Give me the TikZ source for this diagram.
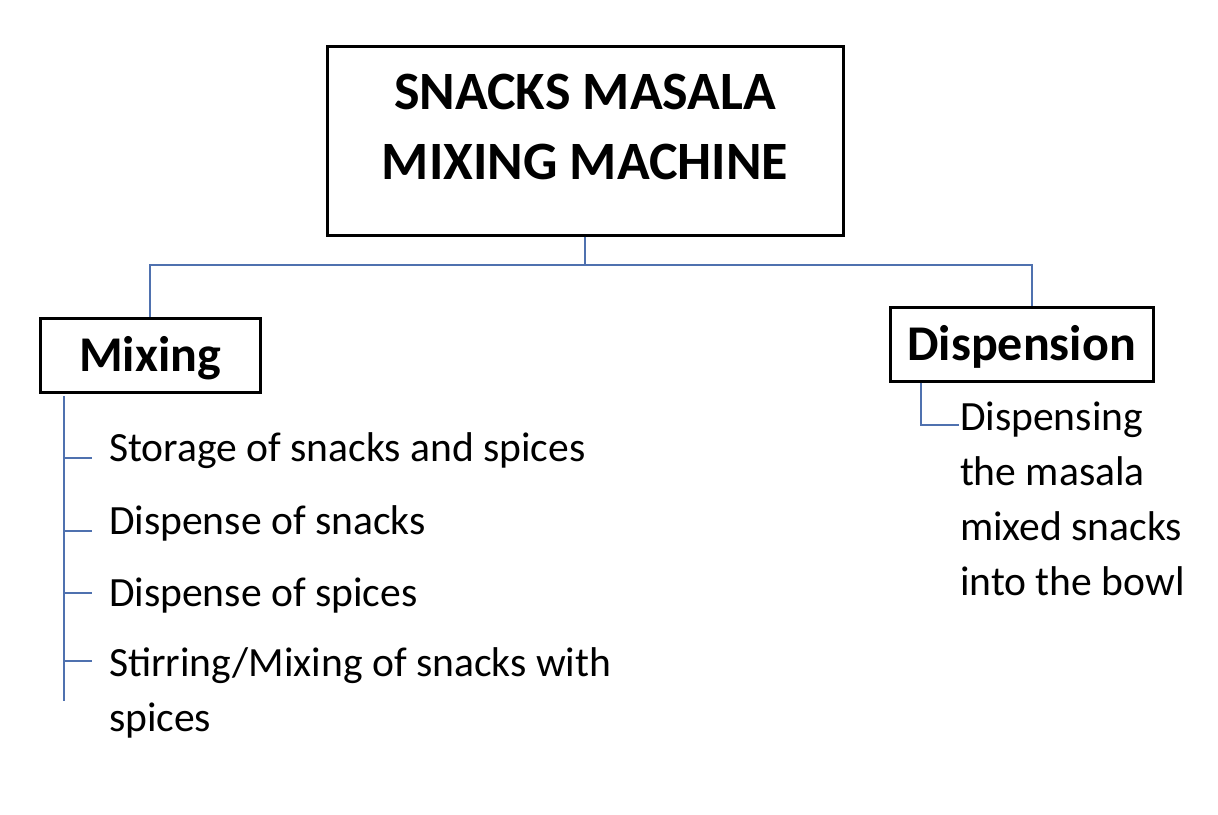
\documentclass[tikz,border=0pt]{standalone}
\usepackage{fontspec}
\setmainfont{Carlito}
\definecolor{treeblue}{RGB}{79,113,175}
\newcommand{\steplines}[1]{\begin{tabular}[t]{@{}l@{}}#1\end{tabular}}

\begin{document}
\begin{tikzpicture}
  [
  x=0.5pt, y=-0.5pt, line width=1pt,
  headbox/.style={draw=black, line width=1.5pt, align=center, inner sep=0pt,
    font=\bfseries\fontsize{27}{35}\selectfont},
  groupbox/.style={draw=black, line width=1.5pt, inner sep=0pt, minimum height=37pt,
    text height=21pt, text depth=5pt, font=\bfseries\fontsize{25}{30}\selectfont},
  item/.style={anchor=base west, inner xsep=8pt, inner ysep=0pt,
    font=\fontsize{20.8}{27.5}\selectfont},
  branch/.style={draw=treeblue, line width=1pt}
  ]

\useasboundingbox (0,0) rectangle (1218,814);

\node[headbox, minimum width=258pt, minimum height=94.5pt, text depth=14pt] (title)
  at (585,140.5) {SNACKS MASALA\\MIXING MACHINE};
\node[groupbox, minimum width=110pt] (mix) at (150,355) {Mixing};
\node[groupbox, minimum width=131.5pt] (disp) at (1021.5,344) {Dispension};

% bus from the title to both groups
\draw[branch] (title.south) -- ++(0,28) coordinate (bus) -| (mix.north);
\draw[branch] (bus) -| ([xshift=5pt]disp.north);

% mixing steps
\coordinate (spinetop) at (64,396);
\coordinate (spineend) at (64,701);
\draw[branch] (spinetop) -- (spineend);

\foreach \y/\ty/\txt [count=\i] in {461/458/Storage of snacks and spices,
  534/531/Dispense of snacks, 606/593/Dispense of spices,
  676/661/{\steplines{Stirring/Mixing of snacks with\\spices}}} {
  \node[item] (step\i) at (92,\y) {\txt};
  \coordinate (tick\i) at (step\i.west |- 0,\ty);
  \draw[branch] (spinetop |- tick\i) -- (tick\i);
}

% dispension step
\node[item, inner xsep=0pt] (dispstep) at (959,430)
  {\steplines{Dispensing\\the masala\\mixed snacks\\into the bowl}};
\coordinate (disptick) at (dispstep.west |- 0,425);
\draw[branch] ([xshift=16pt]disp.south west) |- (disptick);

\end{tikzpicture}
\end{document}
